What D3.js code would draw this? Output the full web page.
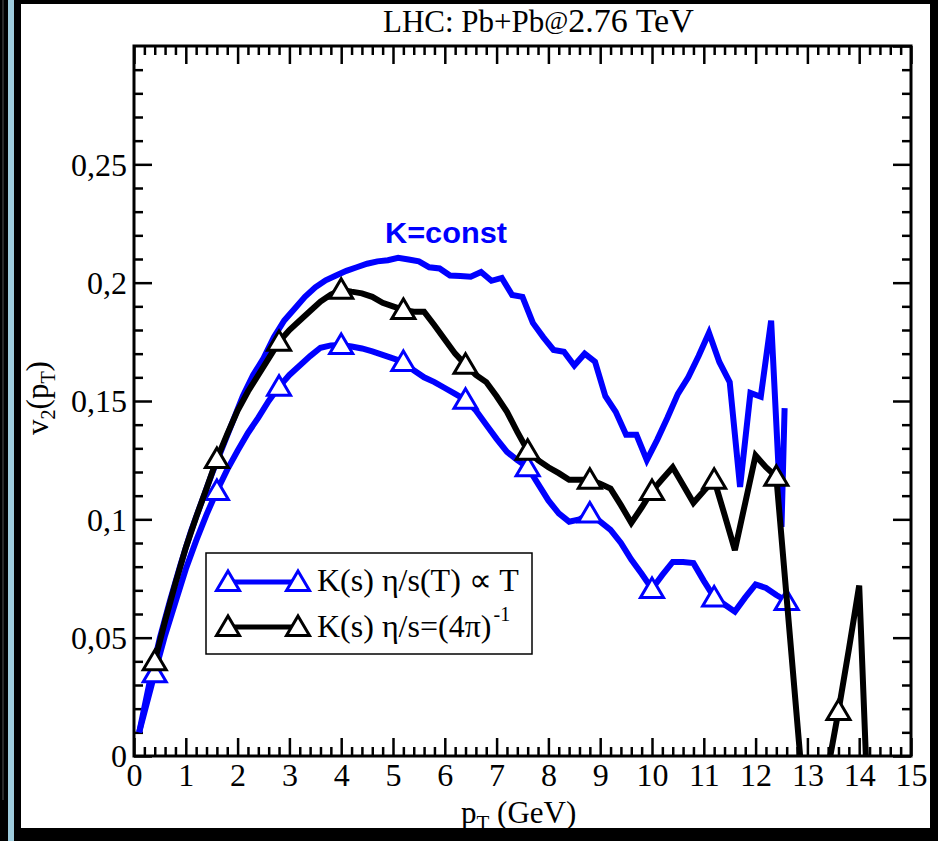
<!DOCTYPE html>
<html>
<head>
<meta charset="utf-8">
<script src="https://cdn.jsdelivr.net/npm/d3@7"></script>
<style>
  body { margin: 0; background: #000; }
  svg { display: block; }
  text { font-family: "Liberation Serif", "Times New Roman", serif; fill: #000; }
</style>
</head>
<body>
<div id="chart"></div>
<script>
// values
// K = const (plain blue, no markers)
var ptConst = [0.1, 0.3, 0.5, 0.7, 0.9, 1.1, 1.3, 1.5, 1.7, 1.9, 2.1, 2.3, 2.5, 2.7, 2.9, 3.1, 3.3, 3.5, 3.7, 3.9,
    4.1, 4.3, 4.5, 4.7, 4.9, 5.1, 5.3, 5.5, 5.7, 5.9, 6.1, 6.3, 6.5, 6.7, 6.9, 7.1, 7.3, 7.5, 7.7, 7.9,
    8.1, 8.3, 8.5, 8.7, 8.9, 9.1, 9.3, 9.5, 9.7, 9.9, 10.1, 10.3, 10.5, 10.7, 10.9, 11.1, 11.3, 11.5, 11.7, 11.9,
    12.1, 12.3, 12.5, 12.56];
var v2Const = [0.010, 0.031, 0.050, 0.066, 0.081, 0.095, 0.107, 0.119, 0.130, 0.141, 0.152, 0.161, 0.168, 0.177, 0.184,
    0.189, 0.194, 0.198, 0.201, 0.203, 0.205, 0.2065, 0.208, 0.209, 0.2095, 0.2105, 0.2098, 0.209, 0.2065, 0.206,
    0.203, 0.2028, 0.2025, 0.2045, 0.2008, 0.202, 0.1948, 0.194, 0.183, 0.177, 0.1716, 0.1708, 0.165, 0.170, 0.1666,
    0.152, 0.1454, 0.1357, 0.1357, 0.125, 0.1336, 0.143, 0.153, 0.160, 0.169, 0.1788, 0.1665, 0.158, 0.1137, 0.1534,
    0.1518, 0.184, 0.0968, 0.147];

// K(s) eta/s(T) ~ T (blue, triangles)
var ptEtaT = [0.1, 0.4, 0.6, 0.8, 1.0, 1.2, 1.4, 1.6, 1.8, 2.0, 2.2, 2.4, 2.6, 2.8, 3.0, 3.2, 3.4, 3.6, 3.8, 4.0,
    4.2, 4.4, 4.6, 4.8, 5.0, 5.2, 5.4, 5.6, 5.8, 6.0, 6.2, 6.4, 6.6, 6.8, 7.0, 7.2, 7.4, 7.6, 7.8, 8.0,
    8.2, 8.4, 8.6, 8.8, 9.0, 9.2, 9.4, 9.6, 9.8, 10.0, 10.2, 10.4, 10.6, 10.8, 11.0, 11.2, 11.4, 11.6, 11.8, 12.0,
    12.2, 12.4, 12.6];
var v2EtaT = [0.010, 0.035, 0.051, 0.065, 0.079, 0.091, 0.102, 0.112, 0.121, 0.129, 0.1365, 0.143, 0.150, 0.156, 0.161,
    0.165, 0.169, 0.1725, 0.1735, 0.1737, 0.173, 0.1722, 0.171, 0.1695, 0.168, 0.1665, 0.163, 0.160, 0.158, 0.1555,
    0.153, 0.1505, 0.146, 0.140, 0.134, 0.1285, 0.125, 0.122, 0.115, 0.108, 0.1025, 0.099, 0.100, 0.1025, 0.099,
    0.0955, 0.090, 0.083, 0.077, 0.0706, 0.0765, 0.082, 0.082, 0.0815, 0.074, 0.067, 0.064, 0.061, 0.067, 0.0725,
    0.071, 0.068, 0.0655];
var markEtaT = [0.4, 1.6, 2.8, 4.0, 5.2, 6.4, 7.6, 8.8, 10.0, 11.2, 12.6];

// K(s) eta/s = 1/(4 pi) (black, triangles)
var ptEtaConst = [0.4, 0.6, 0.8, 1.0, 1.2, 1.4, 1.6, 1.8, 2.0, 2.2, 2.4, 2.6, 2.8, 3.0, 3.2, 3.4, 3.6, 3.8, 4.0,
    4.2, 4.4, 4.6, 4.8, 5.0, 5.2, 5.4, 5.6, 5.8, 6.0, 6.2, 6.4, 6.6, 6.8, 7.0, 7.2, 7.4, 7.6, 7.8, 8.0,
    8.2, 8.4, 8.6, 8.8, 9.0, 9.2, 9.4, 9.6, 9.8, 10.0, 10.2, 10.4, 10.6, 10.8, 11.0, 11.2, 11.4, 11.6, 11.8, 12.0,
    12.2, 12.4, 13.0, 13.2, 13.4, 13.6, 13.8, 14.0, 14.2];
var v2EtaConst = [0.040, 0.057, 0.073, 0.088, 0.101, 0.113, 0.1255, 0.136, 0.146, 0.154, 0.161, 0.168, 0.175, 0.180,
    0.184, 0.188, 0.192, 0.195, 0.197, 0.1962, 0.1955, 0.194, 0.1915, 0.190, 0.1885, 0.1877, 0.1877, 0.182, 0.176,
    0.170, 0.1653, 0.161, 0.158, 0.152, 0.1454, 0.137, 0.129, 0.125, 0.122, 0.1195, 0.1167, 0.1167, 0.1167, 0.115,
    0.113, 0.106, 0.0985, 0.105, 0.112, 0.117, 0.122, 0.1145, 0.107, 0.112, 0.1167, 0.102, 0.087, 0.107, 0.127,
    0.122, 0.118, -0.036, -0.06, -0.005, 0.019, 0.045, 0.072, -0.04];
var markEtaConst = [0.4, 1.6, 2.8, 4.0, 5.2, 6.4, 7.6, 8.8, 10.0, 11.2, 12.4, 13.6];

var xTicks = [0, 1, 2, 3, 4, 5, 6, 7, 8, 9, 10, 11, 12, 13, 14, 15];
var yTicks = [0, 0.05, 0.1, 0.15, 0.2, 0.25];

var svgWidth = 938;
var svgHeight = 841;
var margin = { top: 46, left: 134 };
var width = 777;
var height = 710;

var svg = d3.select("#chart")
    .append("svg")
    .attr("width", svgWidth)
    .attr("height", svgHeight);

// outer frame of the picture
svg.append("rect").attr("width", svgWidth).attr("height", svgHeight).attr("fill", "#000");
svg.append("rect").attr("x", 8).attr("y", 0).attr("width", 6).attr("height", svgHeight).attr("fill", "#9ecbdc");
svg.append("rect").attr("x", 2.5).attr("y", 0).attr("width", 1).attr("height", 800).attr("fill", "#555");
svg.append("rect").attr("x", 21).attr("y", 4).attr("width", 909).attr("height", 824).attr("fill", "#fff");

var chartGroup = svg.append("g")
    .attr("transform", `translate(${margin.left}, ${margin.top})`);

var xScale = d3.scaleLinear().domain([0, 15]).range([0, width]);
var yScale = d3.scaleLinear().domain([0, 0.3]).range([height, 0]);

var xMinor = d3.range(0, 15.001, 0.2).filter(d => Math.abs(d - Math.round(d)) > 0.01);
var yMinor = d3.range(0, 0.3001, 0.01).filter(d => Math.abs(d / 0.05 - Math.round(d / 0.05)) > 0.01);

var fmtY = d => d === 0 ? "0" : String(d).replace(".", ",");

function styleAxis(g) {
    g.select(".domain").remove();
    g.selectAll(".tick line").attr("stroke", "#000").attr("stroke-width", 2.5);
    g.selectAll(".tick text").attr("font-family", "Liberation Serif").attr("font-size", 32).attr("fill", "#000");
}

// major ticks with labels
chartGroup.append("g")
    .attr("transform", `translate(0, ${height})`)
    .call(d3.axisBottom(xScale).tickValues(xTicks).tickSize(-18).tickPadding(7).tickFormat(d3.format("d")))
    .call(styleAxis);
chartGroup.append("g")
    .call(d3.axisLeft(yScale).tickValues(yTicks).tickSize(-18).tickPadding(7).tickFormat(fmtY))
    .call(styleAxis)
    .selectAll(".tick text").attr("dy", "0.34em");
chartGroup.append("g")
    .call(d3.axisTop(xScale).tickValues(xTicks).tickSize(-18).tickFormat(""))
    .call(styleAxis);
chartGroup.append("g")
    .attr("transform", `translate(${width}, 0)`)
    .call(d3.axisRight(yScale).tickValues(yTicks.concat([0.3])).tickSize(-18).tickFormat(""))
    .call(styleAxis);

// minor ticks
chartGroup.append("g")
    .attr("transform", `translate(0, ${height})`)
    .call(d3.axisBottom(xScale).tickValues(xMinor).tickSize(-9).tickFormat(""))
    .call(styleAxis);
chartGroup.append("g")
    .call(d3.axisTop(xScale).tickValues(xMinor).tickSize(-9).tickFormat(""))
    .call(styleAxis);
chartGroup.append("g")
    .call(d3.axisLeft(yScale).tickValues(yMinor).tickSize(-9).tickFormat(""))
    .call(styleAxis);
chartGroup.append("g")
    .attr("transform", `translate(${width}, 0)`)
    .call(d3.axisRight(yScale).tickValues(yMinor).tickSize(-9).tickFormat(""))
    .call(styleAxis);

// plot frame
chartGroup.append("rect")
    .attr("width", width)
    .attr("height", height)
    .attr("fill", "none")
    .attr("stroke", "#000")
    .attr("stroke-width", 3);

chartGroup.append("clipPath").attr("id", "plotClip")
    .append("rect").attr("width", width).attr("height", height);

var line = d3.line()
    .x(d => xScale(d.pt))
    .y(d => yScale(d.v));

function toPoints(pts, vals) {
    return pts.map((p, i) => ({ pt: p, v: vals[i] }));
}

var triangle = "M0,-11 L11.5,8.5 L-11.5,8.5 Z";

function drawSeries(pts, vals, marks, color) {
    var data = toPoints(pts, vals);
    chartGroup.append("path")
        .datum(data)
        .attr("clip-path", "url(#plotClip)")
        .attr("d", line)
        .attr("fill", "none")
        .attr("stroke", color)
        .attr("stroke-width", 6)
        .attr("stroke-linejoin", "miter");
    if (!marks) return;
    chartGroup.append("g").selectAll("path")
        .data(data.filter(d => marks.some(m => Math.abs(m - d.pt) < 1e-6)))
        .enter()
        .append("path")
        .attr("transform", d => `translate(${xScale(d.pt)}, ${yScale(d.v)})`)
        .attr("d", triangle)
        .attr("fill", "#fff")
        .attr("stroke", color)
        .attr("stroke-width", 3);
}

drawSeries(ptConst, v2Const, null, "#0000ff");
drawSeries(ptEtaT, v2EtaT, markEtaT, "#0000ff");
drawSeries(ptEtaConst, v2EtaConst, markEtaConst, "#000");

// K=const label
chartGroup.append("text")
    .attr("x", 251)
    .attr("y", 197)
    .attr("font-weight", "700")
    .attr("font-size", 30)
    .attr("textLength", 122)
    .attr("lengthAdjust", "spacingAndGlyphs")
    .style("font-family", "'Liberation Sans', Arial, sans-serif")
    .style("fill", "#0000ff")
    .text("K=const");

// legend
var legend = svg.append("g");
legend.append("rect")
    .attr("x", 206).attr("y", 553)
    .attr("width", 326).attr("height", 101)
    .attr("fill", "#fff")
    .attr("stroke", "#000")
    .attr("stroke-width", 1.5);

var legendRows = [
    { color: "#0000ff", y: 582 },
    { color: "#000", y: 627 }
];
legendRows.forEach(function (r) {
    legend.append("line")
        .attr("x1", 228).attr("x2", 298)
        .attr("y1", r.y).attr("y2", r.y)
        .attr("stroke", r.color).attr("stroke-width", 5);
    [228, 298].forEach(function (cx) {
        legend.append("path")
            .attr("transform", `translate(${cx}, ${r.y})`)
            .attr("d", triangle)
            .attr("fill", "#fff")
            .attr("stroke", r.color)
            .attr("stroke-width", 3);
    });
});

legend.append("text")
    .attr("x", 317).attr("y", 591)
    .attr("font-size", 32)
    .text("K(s) \u03b7/s(T)  \u221d T");

var leg2 = legend.append("text")
    .attr("x", 317).attr("y", 637)
    .attr("font-size", 32);
leg2.append("tspan").text("K(s) \u03b7/s=(4\u03c0)");
leg2.append("tspan").attr("dy", -16).attr("dx", 2).attr("font-size", 20).text("-1");

// title
var title = svg.append("text")
    .attr("x", 383).attr("y", 32)
    .attr("font-size", 31);
title.append("tspan").text("LHC: Pb+Pb");
title.append("tspan").attr("font-size", 26).attr("dy", -3).text("@");
title.append("tspan").attr("font-size", 34).attr("dy", 3).text("2.76 TeV");

// axis labels
var xLabel = svg.append("text")
    .attr("x", 461).attr("y", 823)
    .attr("font-size", 31);
xLabel.append("tspan").text("p");
xLabel.append("tspan").attr("font-size", 21).attr("dy", 7).text("T");
xLabel.append("tspan").attr("dy", -7).text(" (GeV)");

var yLabel = svg.append("text")
    .attr("transform", "translate(48, 398) rotate(-90)")
    .attr("text-anchor", "middle")
    .attr("font-size", 31);
yLabel.append("tspan").text("v");
yLabel.append("tspan").attr("font-size", 20).attr("dy", 7).text("2");
yLabel.append("tspan").attr("dy", -7).text("(p");
yLabel.append("tspan").attr("font-size", 20).attr("dy", 7).text("T");
yLabel.append("tspan").attr("dy", -7).text(")");
</script>
</body>
</html>
